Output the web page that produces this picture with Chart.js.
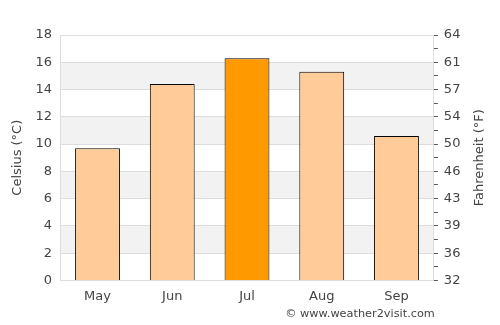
<!DOCTYPE html>
<html>
<head>
<meta charset="utf-8">
<script src="https://cdn.jsdelivr.net/npm/chart.js@4/dist/chart.umd.min.js"></script>
<style>
  body { margin: 0; background: #fff; }
  #wrap { width: 500px; height: 325px; }
</style>
</head>
<body>
<div id="wrap"><canvas id="chartTemp" width="500" height="325"></canvas></div>
<script>
const months = ["May", "Jun", "Jul", "Aug", "Sep"];
const celsiusValues = [9.7, 14.4, 16.3, 15.3, 10.6];
const celsiusTicks = [0, 2, 4, 6, 8, 10, 12, 14, 16, 18];
const fahrenheitLabels = [32, 36, 39, 43, 46, 50, 54, 57, 61, 64];

const maxValue = Math.max(...celsiusValues);
const barColors = celsiusValues.map((v) => (v === maxValue ? "#ff9900" : "#ffcc99"));

// grey bands behind the bars, every other 2 degree step
const bandsPlugin = {
  id: "bands",
  beforeDraw(chart) {
    const { ctx, chartArea } = chart;
    const y = chart.scales.y;
    ctx.save();
    ctx.fillStyle = "#f2f2f2";
    for (let i = 1; i < celsiusTicks.length - 1; i += 2) {
      const top = y.getPixelForValue(celsiusTicks[i + 1]);
      const bottom = y.getPixelForValue(celsiusTicks[i]);
      ctx.fillRect(chartArea.left, top, chartArea.right - chartArea.left, bottom - top);
    }
    ctx.restore();
  },
  afterDraw(chart) {
    const { ctx, chartArea } = chart;
    ctx.save();
    ctx.fillStyle = "#444";
    // right axis title, reading bottom to top
    ctx.font = "13px 'DejaVu Sans'";
    ctx.textAlign = "center";
    ctx.textBaseline = "middle";
    ctx.translate(480, (chartArea.top + chartArea.bottom) / 2);
    ctx.rotate(-Math.PI / 2);
    ctx.fillText("Fahrenheit (°F)", 0, 0);
    ctx.setTransform(1, 0, 0, 1, 0, 0);
    ctx.font = "11.3px 'DejaVu Sans'";
    ctx.textAlign = "right";
    ctx.fillText("\u00a9 www.weather2visit.com", chartArea.right + 1, 314);
    ctx.restore();
  },
};

Chart.defaults.font.family = "'DejaVu Sans', sans-serif";
Chart.defaults.font.size = 13;
Chart.defaults.color = "#444";

new Chart(document.querySelector("#chartTemp"), {
  type: "bar",
  data: {
    labels: months,
    datasets: [
      {
        label: "Celsius",
        data: celsiusValues,
        backgroundColor: barColors,
        borderColor: "#000",
        borderWidth: 1,
        categoryPercentage: 0.6,
        barPercentage: 1,
        yAxisID: "y",
      },
    ],
  },
  options: {
    responsive: false,
    animation: false,
    layout: { padding: { top: 35, bottom: 21, left: 8, right: 10 } },
    plugins: { legend: { display: false }, tooltip: { enabled: false } },
    scales: {
      x: {
        grid: { display: false },
        border: { color: "#ddd" },
        ticks: { padding: 0 },
      },
      y: {
        position: "left",
        min: 0,
        max: 18,
        afterBuildTicks: (axis) => {
          axis.ticks = celsiusTicks.map((v) => ({ value: v }));
        },
        grid: { color: "#ddd", drawTicks: false },
        border: { color: "#ddd" },
        ticks: { padding: 8 },
        title: { display: true, text: "Celsius (°C)", padding: 2 },
      },
      y2: {
        position: "right",
        min: 32,
        max: 32 + 18 * 1.8,
        afterBuildTicks: (axis) => {
          const t = [];
          for (let k = 0; k <= 18; k++) t.push({ value: 32 + k * 1.8 });
          axis.ticks = t;
        },
        grid: { drawOnChartArea: false, tickLength: 4, tickColor: "#555" },
        border: { color: "#ddd" },
        ticks: {
          padding: 6,
          autoSkip: false,
          callback: (value, index) => (index % 2 === 0 ? String(fahrenheitLabels[index / 2]) : ""),
        },
        // space is kept here, the text itself is drawn by the plugin
        title: { display: true, text: "Fahrenheit (°F)", color: "rgba(0,0,0,0)", padding: 4 },
      },
    },
  },
  plugins: [bandsPlugin],
});
</script>
</body>
</html>
